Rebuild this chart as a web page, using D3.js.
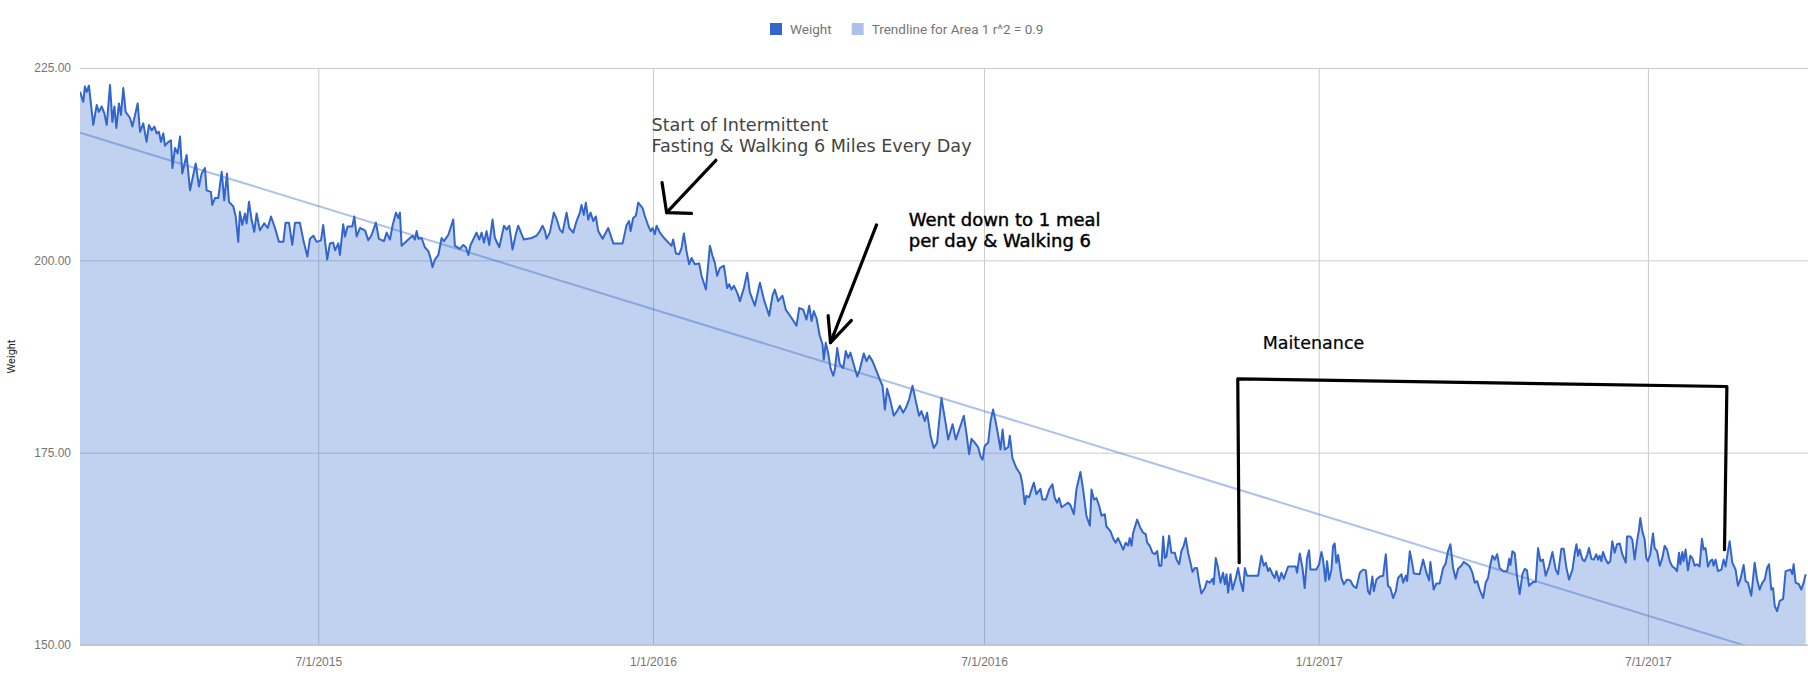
<!DOCTYPE html>
<html>
<head>
<meta charset="utf-8">
<script src="https://cdn.jsdelivr.net/npm/d3@7"></script>
<style>
  body { margin: 0; background: #fff; }
  svg { display: block; font-family: Roboto, Arial, sans-serif; }
</style>
</head>
<body>
<div id="chart"></div>
<script>
const width = 1808;
const height = 676;
const margin = { top: 68, right: 0, bottom: 31, left: 80 };

// x domain: first reading to the right edge of the picture
const startDate = new Date(2015, 1, 20);
const endDate = new Date(2017, 8, 27);
const xTickDates = ["2015-07-01", "2016-01-01", "2016-07-01", "2017-01-01", "2017-07-01"];
const yTicks = [150, 175, 200, 225];
const yDomain = [150, 225];

// days since startDate
const dayOffsets = [
  0,1.8,2.7,3.7,4.9,7.3,9.2,10.4,11.9,13.4,
  14.7,16.5,17.8,18.9,20.0,21.4,22.5,23.8,25.1,27.5,
  28.8,31.7,33.0,34.8,36.6,37.9,39.4,40.9,42.1,43.4,
  44.5,45.8,46.7,48.6,50.0,50.8,52.2,53.7,55.0,56.2,
  58.6,60.5,63.6,65.4,66.9,68.7,69.6,72.0,72.7,74.2,
  76.0,77.9,79.3,80.8,81.9,84.3,85.6,87.0,87.9,89.2,
  90.7,91.6,92.9,94.4,95.8,97.1,98.9,101.3,103.2,105.0,
  107.2,109.4,111.8,113.0,114.9,116.7,118.2,120.9,122.8,125.0,
  126.4,128.3,130.1,132.5,133.7,135.9,137.4,139.2,140.2,142.0,
  142.9,144.7,145.7,147.1,149.7,150.8,152.1,153.9,156.7,158.5,
  160.3,162.7,164.3,
  167.1,168.6,170.4,171.9,173.7,175.0,175.9,176.8,179.6,181.4,
  182.9,184.1,185.1,186.0,187.8,189.6,191.5,192.7,193.8,195.1,
  197.0,198.8,200.1,202.5,203.7,205.2,206.1,208.9,210.7,212.2,
  213.5,214.7,218.0,219.5,220.8,222.1,223.5,225.0,226.8,228.1,
  230.5,233.1,234.5,236.0,237.8,239.7,240.9,244.0,248.3,251.0,
  252.8,254.3,255.6,256.5,258.3,260.5,262.0,263.8,265.3,267.5,
  269.0,271.2,273.0,274.8,275.7,277.0,278.1,279.4,280.7,282.2,
  283.6,284.9,287.3,290.4,293.2,298.3,300.5,301.9,302.7,304.1,
  305.6,306.9,
  309.3,310.5,312.4,313.7,314.8,316.0,317.0,318.8,321.5,323.9,
  325.2,326.1,327.6,329.4,330.7,332.0,333.5,334.9,336.2,338.0,
  340.4,341.7,344.1,346.3,347.7,349.0,350.3,351.8,354.0,355.8,
  356.9,358.2,359.5,361.3,362.8,365.0,366.8,368.3,371.0,373.8,
  376.0,378.9,380.7,382.0,383.8,386.2,388.0,391.2,393.9,395.4,
  397.6,399.4,400.9,402.2,403.4,404.9,406.7,408.2,408.9,410.0,
  411.3,412.6,414.1,415.0,416.3,417.7,419.6,421.0,422.3,423.6,
  425.1,427.3,428.7,430.9,432.4,433.9,435.7,437.9,439.7,441.2,
  442.5,443.7,445.6,447.4,449.2,450.7,452.5,454.0,455.8,457.7,
  459.5,461.3,462.6,464.5,465.7,467.6,469.4,471.2,473.6,476.0,
  477.3,479.7,481.5,
  485.9,487.4,488.8,490.1,491.9,493.8,495.1,496.2,497.4,499.3,
  500.6,502.0,503.5,504.8,506.1,507.2,508.4,510.3,511.2,512.6,
  514.8,517.0,518.1,519.4,520.3,521.8,523.1,524.4,525.8,528.0,
  529.1,531.0,532.8,534.6,535.9,537.2,538.3,539.6,541.4,543.2,
  544.5,546.4,547.8,550.0,551.5,553.3,555.2,556.1,557.4,558.8,
  560.3,561.6,563.4,564.3,566.5,568.3,569.4,570.7,572.0,573.5,
  574.9,576.2,577.1,578.1,579.0,581.2,583.0,584.5,585.9,586.7,
  588.1,589.6,590.9,592.2,593.3,594.5,595.5,596.4,597.3,598.8,
  600.0,601.9,602.8,604.3,605.5,606.8,607.9,609.2,610.5,611.6,
  612.9,614.1,615.2,616.5,618.4,619.6,621.1,622.6,623.3,624.4,
  625.7,627.0,628.4,629.4,630.3,631.2,632.5,633.6,635.4,636.7,
  638.0,639.4,640.4,641.6,647.7,649.5,650.8,651.9,653.2,
  654.1,655.6,656.8,657.8,659.2,660.5,661.8,664.2,668.4,669.1,
  670.6,672.1,673.3,674.6,675.7,676.5,679.7,681.2,682.5,683.4,
  684.7,685.6,686.7,688.0,688.9,689.8,690.7,691.7,693.5,694.8,
  696.6,698.4,699.9,701.7,703.6,705.4,706.9,708.1,709.1,710.5,
  711.3,712.7,714.6,716.4,717.9,719.1,720.4,721.9,723.4,724.6,
  726.5,727.4,728.9,729.6,731.1,732.5,733.3,736.5,738.4,740.2,
  741.7,742.4,744.2,745.7,747.5,749.4,750.8,752.1,753.4,754.9,
  756.3,757.6,759.4,760.7,762.6,764.0,765.5,766.8,768.1,769.5,
  771.4,772.8,774.1,775.4,776.5,777.8,779.1,780.5,782.3,784.6,
  785.7,786.4,787.5,788.8,790.0,791.5,793.0,794.3,795.5,796.6,
  798.8,800.3,801.6,802.9,804.3,805.8,807.6,809.5,811.3,812.6,
  814.4,815.7,817.2,818.6,
  820.5,821.7,822.7,823.6,824.5,826.0,827.2,828.5,829.6,830.9,
  832.2,833.6,834.6,835.5,836.4,837.3,838.8,840.1,841.3,842.4,
  843.7,845.0,846.5,847.9,849.8,850.5,852.3,853.4,854.7,856.0,
  857.1,857.8,858.9,860.2,861.1,862.0,863.3,864.8,865.7,867.0,
  868.5,869.9,871.2,872.5,874.0,875.4,876.7,878.0,879.1,879.8,
  880.9,881.6,882.7,884.0,885.3,886.4,887.7,889.0,890.4,891.7,
  892.6,893.7,895.0,896.3,897.4,898.1,899.2,900.5,902.4,903.6,
  904.7,906.0,906.9,908.4,910.2,911.5,912.8,914.6,915.7,917.0,
  918.8,920.7,922.0,923.4,924.9,926.2,927.5,928.6,929.8,930.8,
  931.7,933.0,934.4,936.3,937.7,939.0,940.3,941.4,942.1,943.2,
  945.0,946.3,947.6,948.7
];

const weights = [
  221.9,220.6,222.6,221.9,222.7,217.6,220.2,219.3,220.0,219.1,
  217.6,222.8,218.0,220.0,217.2,220.4,218.9,222.4,219.3,218.5,
  217.4,220.4,216.7,217.8,215.4,217.6,216.9,217.4,216.5,216.7,
  215.4,216.5,214.9,215.4,215.6,212.0,214.6,213.9,216.1,211.3,
  213.7,209.1,212.6,209.6,211.3,212.0,209.1,208.9,207.2,208.1,
  208.1,211.5,207.8,211.3,207.6,207.0,205.7,202.4,206.3,204.6,
  206.1,204.8,207.6,205.2,203.7,206.1,203.9,204.8,204.2,205.7,
  204.2,202.4,202.4,204.9,204.9,202.0,204.9,204.9,202.6,200.5,
  202.8,203.2,202.4,202.6,204.6,200.1,202.2,202.3,201.3,202.2,
  200.7,204.7,203.1,204.4,204.4,205.7,203.1,204.2,203.9,202.6,
  203.3,204.9,202.8,
  202.5,203.6,202.7,204.6,206.2,205.5,206.2,201.9,202.5,202.9,
  203.2,202.7,203.8,202.8,202.9,201.7,201.2,200.3,199.1,200.1,
  200.7,202.9,202.5,203.3,204.2,205.3,201.9,201.5,202.0,201.7,
  200.7,202.0,203.6,202.7,203.6,202.3,203.8,202.0,205.3,202.9,
  201.7,204.5,204.0,204.5,201.4,203.5,204.5,202.7,202.9,203.2,
  203.8,204.5,203.8,202.8,203.6,206.2,205.4,204.0,203.6,206.2,
  204.2,203.6,205.1,206.2,207.2,205.9,207.5,205.3,206.2,205.1,
  205.7,203.8,202.8,204.2,202.2,202.2,204.6,205.1,203.8,205.5,
  205.8,207.5,
  206.8,205.8,204.5,203.8,204.2,203.4,204.5,203.6,202.8,202.2,
  201.9,202.7,200.9,200.8,201.6,203.5,201.1,199.5,200.3,199.5,
  199.6,198.0,196.2,201.9,200.6,199.7,198.0,199.0,199.3,196.4,
  196.9,196.2,196.7,195.8,194.7,196.4,198.4,195.8,194.1,197.1,
  194.9,192.8,195.4,196.2,194.7,195.4,193.6,192.5,191.5,193.8,
  193.6,192.3,194.1,192.1,193.4,192.5,190.2,189.1,187.1,189.3,
  188.0,186.0,185.0,185.8,188.6,186.5,186.0,188.2,187.3,188.0,
  186.7,184.9,185.8,187.9,186.9,187.6,186.9,185.6,184.5,183.7,
  180.6,183.3,181.7,179.8,180.4,181.1,180.2,180.8,181.9,183.7,
  181.7,179.8,180.4,179.1,180.2,177.2,175.6,176.3,182.1,178.7,
  176.7,178.7,176.7,
  179.8,177.4,174.8,176.8,176.3,175.7,174.5,174.1,175.9,176.3,
  179.1,180.6,178.9,177.2,175.4,178.0,175.4,175.7,177.2,174.3,
  173.0,172.2,170.9,168.3,169.4,169.2,170.2,171.1,169.6,170.3,
  168.9,168.9,170.2,170.9,169.1,168.5,169.1,167.9,168.2,168.5,
  168.2,167.0,170.2,172.5,170.2,166.8,165.5,170.2,168.9,169.1,
  168.1,166.8,167.0,165.4,164.8,163.7,163.3,163.9,163.2,162.4,
  163.3,162.9,163.9,162.9,164.6,166.3,165.2,164.6,164.4,163.3,
  162.9,162.0,161.8,162.2,160.3,160.3,164.1,161.3,161.5,164.2,
  162.0,162.0,161.1,160.5,162.2,162.9,163.9,162.0,160.7,159.5,
  160.0,160.0,158.3,156.7,157.4,158.3,158.1,158.6,157.9,161.3,
  160.0,158.1,159.4,157.9,159.2,156.8,159.2,157.2,158.7,160.0,
  158.3,157.0,160.0,159.0,159.0,161.6,160.3,160.7,159.6,
  160.0,159.2,158.7,159.6,158.3,159.4,158.6,160.2,160.2,159.4,
  161.9,160.0,157.4,161.3,162.3,159.8,159.8,160.5,162.1,161.1,
  158.3,160.9,158.5,159.8,162.9,163.2,160.7,161.7,158.7,157.9,
  158.5,158.4,157.7,157.4,159.4,159.8,159.7,157.0,156.6,158.9,
  157.0,158.5,158.9,159.0,161.8,157.7,157.4,156.1,157.0,158.7,
  159.2,158.1,159.0,158.3,162.2,160.5,159.3,159.2,161.1,159.4,
  158.4,160.8,157.2,158.0,158.0,160.0,160.6,162.2,163.1,160.0,
  158.6,159.9,160.3,160.8,160.5,160.2,159.4,158.1,158.3,157.2,
  156.1,158.1,158.7,160.5,161.6,161.1,161.8,160.0,159.6,159.6,
  161.2,160.4,162.2,161.9,159.0,156.6,159.2,159.9,159.7,157.7,
  158.2,158.2,162.6,160.9,161.1,159.0,160.2,162.1,159.8,159.2,
  162.5,162.5,160.0,158.5,
  159.8,161.8,163.1,161.6,162.4,161.1,160.9,161.6,162.6,161.2,
  161.1,161.8,161.1,161.6,160.9,162.1,161.1,160.6,160.9,163.5,
  162.0,163.1,163.2,161.8,160.7,164.1,164.1,163.7,161.1,163.5,
  165.0,166.5,164.8,163.7,161.3,160.9,161.8,164.5,162.6,162.2,
  160.3,161.3,162.9,162.4,160.9,160.2,160.0,159.6,162.0,160.5,
  162.1,160.9,162.4,159.7,161.6,161.3,160.3,160.5,160.2,163.8,
  162.4,162.6,160.2,160.9,161.1,160.3,161.1,159.6,159.8,161.1,
  160.2,162.2,163.5,160.7,159.8,157.7,158.5,160.4,158.3,158.1,
  156.4,160.7,158.5,157.2,158.1,158.5,160.0,160.5,157.2,157.4,
  155.1,154.4,155.7,156.0,159.6,159.7,159.8,159.2,160.5,158.1,
  157.9,157.2,158.1,159.2
];

// linear trendline ends (days, weight)
const trendDays = [0, 950];
const trendWeights = [216.6, 147.4];

const legendLabels = ["Weight", "Trendline for Area 1 r^2 = 0.9"];
const legendColors = ["#3366cc", "#adc2eb"];

// hand drawn notes, in (days, weight) space
const noteStrokes = [
  [[349.6, 213.0], [322.5, 206.2]],
  [[320.0, 210.1], [322.5, 206.2], [336.2, 206.1]],
  [[437.9, 204.6], [412.6, 189.3]],
  [[411.3, 192.8], [412.6, 189.3], [424.1, 192.2]],
  [[637.3, 160.7], [636.5, 184.6], [905.4, 183.6], [904.1, 162.4]]
];
const noteLines = [
  ["Start of Intermittent", "Fasting & Walking 6 Miles Every Day"],
  ["Went down to 1 meal", "per day & Walking 6"],
  ["Maitenance"]
];
const noteAnchors = [[314.2, 216.85], [455.6, 204.46], [650.2, 188.47]];
const noteColors = ["#444444", "#000000", "#000000"];
const noteSizes = [17.6, 18, 17.5];
const noteWeight = [0, 0.45, 0.2];

const toDate = d => new Date(startDate.getTime() + d * 864e5);
const parseDay = d3.timeParse("%Y-%m-%d");

const svg = d3.select("#chart")
  .append("svg")
  .attr("width", width)
  .attr("height", height);

const x = d3.scaleTime()
  .domain([startDate, endDate])
  .range([margin.left, width - margin.right]);

const y = d3.scaleLinear()
  .domain(yDomain)
  .range([height - margin.bottom, margin.top]);

const plotW = width - margin.right - margin.left;
const plotH = height - margin.bottom - margin.top;

svg.append("defs").append("clipPath")
  .attr("id", "plot-clip")
  .append("rect")
  .attr("x", margin.left)
  .attr("y", margin.top)
  .attr("width", plotW)
  .attr("height", plotH);

// gridlines + y labels
const yAxis = svg.append("g")
  .attr("transform", `translate(${margin.left},0)`)
  .call(d3.axisLeft(y).tickValues(yTicks).tickFormat(d3.format(".2f"))
    .tickSize(-plotW).tickPadding(9));
yAxis.select(".domain").remove();
yAxis.selectAll("line").attr("stroke", "#cccccc");
yAxis.selectAll("text")
  .attr("fill", "#757575")
  .style("font-size", "12px");

const xAxis = svg.append("g")
  .attr("transform", `translate(0,${height - margin.bottom})`)
  .call(d3.axisBottom(x).tickValues(xTickDates.map(parseDay))
    .tickFormat(d3.timeFormat("%-m/%-d/%Y"))
    .tickSize(-plotH).tickPadding(12));
xAxis.select(".domain").remove();
xAxis.selectAll("line").attr("stroke", "#cccccc");
xAxis.selectAll("text")
  .attr("fill", "#757575")
  .style("font-size", "12px");

svg.append("text")
  .attr("transform", `translate(15,${margin.top + plotH / 2}) rotate(-90)`)
  .attr("text-anchor", "middle")
  .attr("fill", "#222")
  .style("font-size", "11px")
  .text("Weight");

const series = dayOffsets.map((d, i) => ({ date: toDate(d), value: weights[i] }));

const plot = svg.append("g").attr("clip-path", "url(#plot-clip)");

plot.append("path")
  .datum(series)
  .attr("fill", "#3366cc")
  .attr("fill-opacity", 0.3)
  .attr("d", d3.area()
    .x(d => x(d.date))
    .y0(y(yDomain[0]))
    .y1(d => y(d.value)));

plot.append("path")
  .datum(trendDays.map((d, i) => ({ date: toDate(d), value: trendWeights[i] })))
  .attr("fill", "none")
  .attr("stroke", "#3366cc")
  .attr("stroke-opacity", 0.4)
  .attr("stroke-width", 2)
  .attr("d", d3.line().x(d => x(d.date)).y(d => y(d.value)));

plot.append("path")
  .datum(series)
  .attr("fill", "none")
  .attr("stroke", "#3366cc")
  .attr("stroke-width", 2)
  .attr("stroke-linejoin", "round")
  .attr("d", d3.line().x(d => x(d.date)).y(d => y(d.value)));

// baseline at the bottom of the plot
svg.append("line")
  .attr("x1", margin.left)
  .attr("x2", width - margin.right)
  .attr("y1", y(yDomain[0]))
  .attr("y2", y(yDomain[0]))
  .attr("stroke", "#bdbdbd");

// legend
const legend = svg.append("g").style("font-size", "13.5px");
let lx = 770;
legendLabels.forEach((label, i) => {
  legend.append("rect")
    .attr("x", lx).attr("y", 23)
    .attr("width", 12).attr("height", 12)
    .attr("fill", legendColors[i]);
  const t = legend.append("text")
    .attr("x", lx + 20).attr("y", 33.5)
    .attr("fill", "#757575")
    .text(label);
  lx += 20 + t.node().getComputedTextLength() + 20;
});

// annotations
const notes = svg.append("g");
const noteLine = d3.line().x(p => x(toDate(p[0]))).y(p => y(p[1]));
noteStrokes.forEach(pts => {
  notes.append("path")
    .attr("d", noteLine(pts))
    .attr("fill", "none")
    .attr("stroke", "#000")
    .attr("stroke-width", 3.2)
    .attr("stroke-linecap", "round")
    .attr("stroke-linejoin", "round");
});
noteLines.forEach((lines, i) => {
  const t = notes.append("text")
    .attr("x", x(toDate(noteAnchors[i][0])))
    .attr("y", y(noteAnchors[i][1]))
    .attr("fill", noteColors[i])
    .attr("stroke", noteWeight[i] ? noteColors[i] : "none")
    .attr("stroke-width", noteWeight[i])
    .style("font-family", "'DejaVu Sans', sans-serif")
    .style("font-size", noteSizes[i] + "px");
  lines.forEach((s, j) => {
    t.append("tspan")
      .attr("x", x(toDate(noteAnchors[i][0])))
      .attr("dy", j === 0 ? 0 : 21)
      .text(s);
  });
});
</script>
</body>
</html>
